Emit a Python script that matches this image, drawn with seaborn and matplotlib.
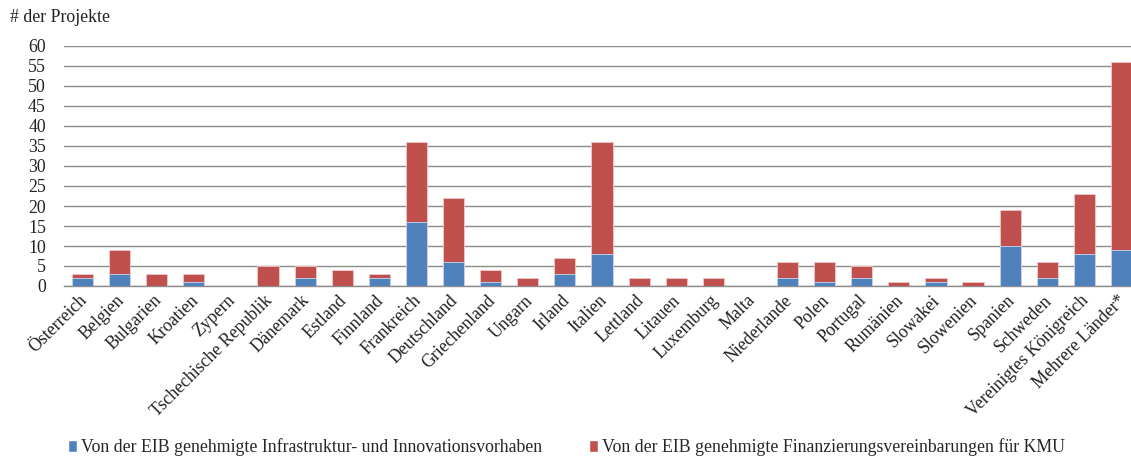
import matplotlib
matplotlib.use("Agg")
import matplotlib.pyplot as plt
import matplotlib.transforms as mtrans
import seaborn as sns
import pandas as pd
from matplotlib.patches import Patch

laender = ["Österreich", "Belgien", "Bulgarien", "Kroatien", "Zypern",
           "Tschechische Republik", "Dänemark", "Estland", "Finnland",
           "Frankreich", "Deutschland", "Griechenland", "Ungarn", "Irland",
           "Italien", "Lettland", "Litauen", "Luxemburg", "Malta",
           "Niederlande", "Polen", "Portugal", "Rumänien", "Slowakei",
           "Slowenien", "Spanien", "Schweden", "Vereinigtes Königreich",
           "Mehrere Länder*"]
infra = [2, 3, 0, 1, 0, 0, 2, 0, 2, 16, 6, 1, 0, 3, 8, 0, 0, 0, 0,
         2, 1, 2, 0, 1, 0, 10, 2, 8, 9]
kmu = [1, 6, 3, 2, 0, 5, 3, 4, 1, 20, 16, 3, 2, 4, 28, 2, 2, 2, 0,
       4, 5, 3, 1, 1, 1, 9, 4, 15, 47]

lbl_infra = "Von der EIB genehmigte Infrastruktur- und Innovationsvorhaben"
lbl_kmu = "Von der EIB genehmigte Finanzierungsvereinbarungen für KMU"

blau = "#4F81BD"
rot = "#C0504D"
fs = 12.8

df = pd.DataFrame({"land": laender, "infra": infra, "kmu": kmu})
df["gesamt"] = df["infra"] + df["kmu"]

sns.set_style("white")
plt.rcParams["font.family"] = ["Liberation Serif", "DejaVu Serif"]
plt.rcParams["font.size"] = fs

fig = plt.figure(figsize=(11.31, 4.59), dpi=100)
# plot area runs slightly past the right edge, as in the original
ax = fig.add_axes([64 / 1131, 1 - 286 / 459, 1076 / 1131, 240 / 459])

sns.barplot(data=df, x="land", y="gesamt", color=rot, width=0.57,
            saturation=1, edgecolor="#f0c8c8", linewidth=0.6, ax=ax, zorder=3)
sns.barplot(data=df, x="land", y="infra", color=blau, width=0.57,
            saturation=1, edgecolor="#c8d8ee", linewidth=0.6, ax=ax, zorder=4)

ax.set_ylim(0, 60)
ax.set_xlim(-0.5, len(laender) - 0.5)
ax.set_yticks(range(0, 61, 5))
ax.yaxis.grid(True, color="#8c8c8c", linewidth=1.0, zorder=0)
ax.set_axisbelow(True)
for s in ["top", "right", "left"]:
    ax.spines[s].set_visible(False)
ax.spines["bottom"].set_color("#8c8c8c")
ax.spines["bottom"].set_linewidth(1.0)
ax.tick_params(axis="both", length=0, labelsize=fs, colors="#222222")
ax.tick_params(axis="y", pad=13)
ax.set_xlabel("")
ax.set_ylabel("")
ax.set_xticks(range(len(laender)))
ax.set_xticklabels(laender, rotation=45, ha="right", rotation_mode="anchor")
off = mtrans.ScaledTranslation(-4 / 100, -1 / 100, fig.dpi_scale_trans)
for t in ax.get_xticklabels():
    t.set_transform(t.get_transform() + off)

fig.text(10 / 1131, 1 - 18 / 459, "# der Projekte", fontsize=fs,
         va="center", ha="left", color="#222222")

handles = [Patch(facecolor=blau, label=lbl_infra),
           Patch(facecolor=rot, label=lbl_kmu)]
fig.legend(handles=handles, loc="center left", ncol=2, frameon=False,
           bbox_to_anchor=(52 / 1131, 1 - 447 / 459), handlelength=0.5,
           handleheight=0.65, handletextpad=0.25, columnspacing=2.6,
           fontsize=fs)

fig.savefig("out.png", dpi=100)
